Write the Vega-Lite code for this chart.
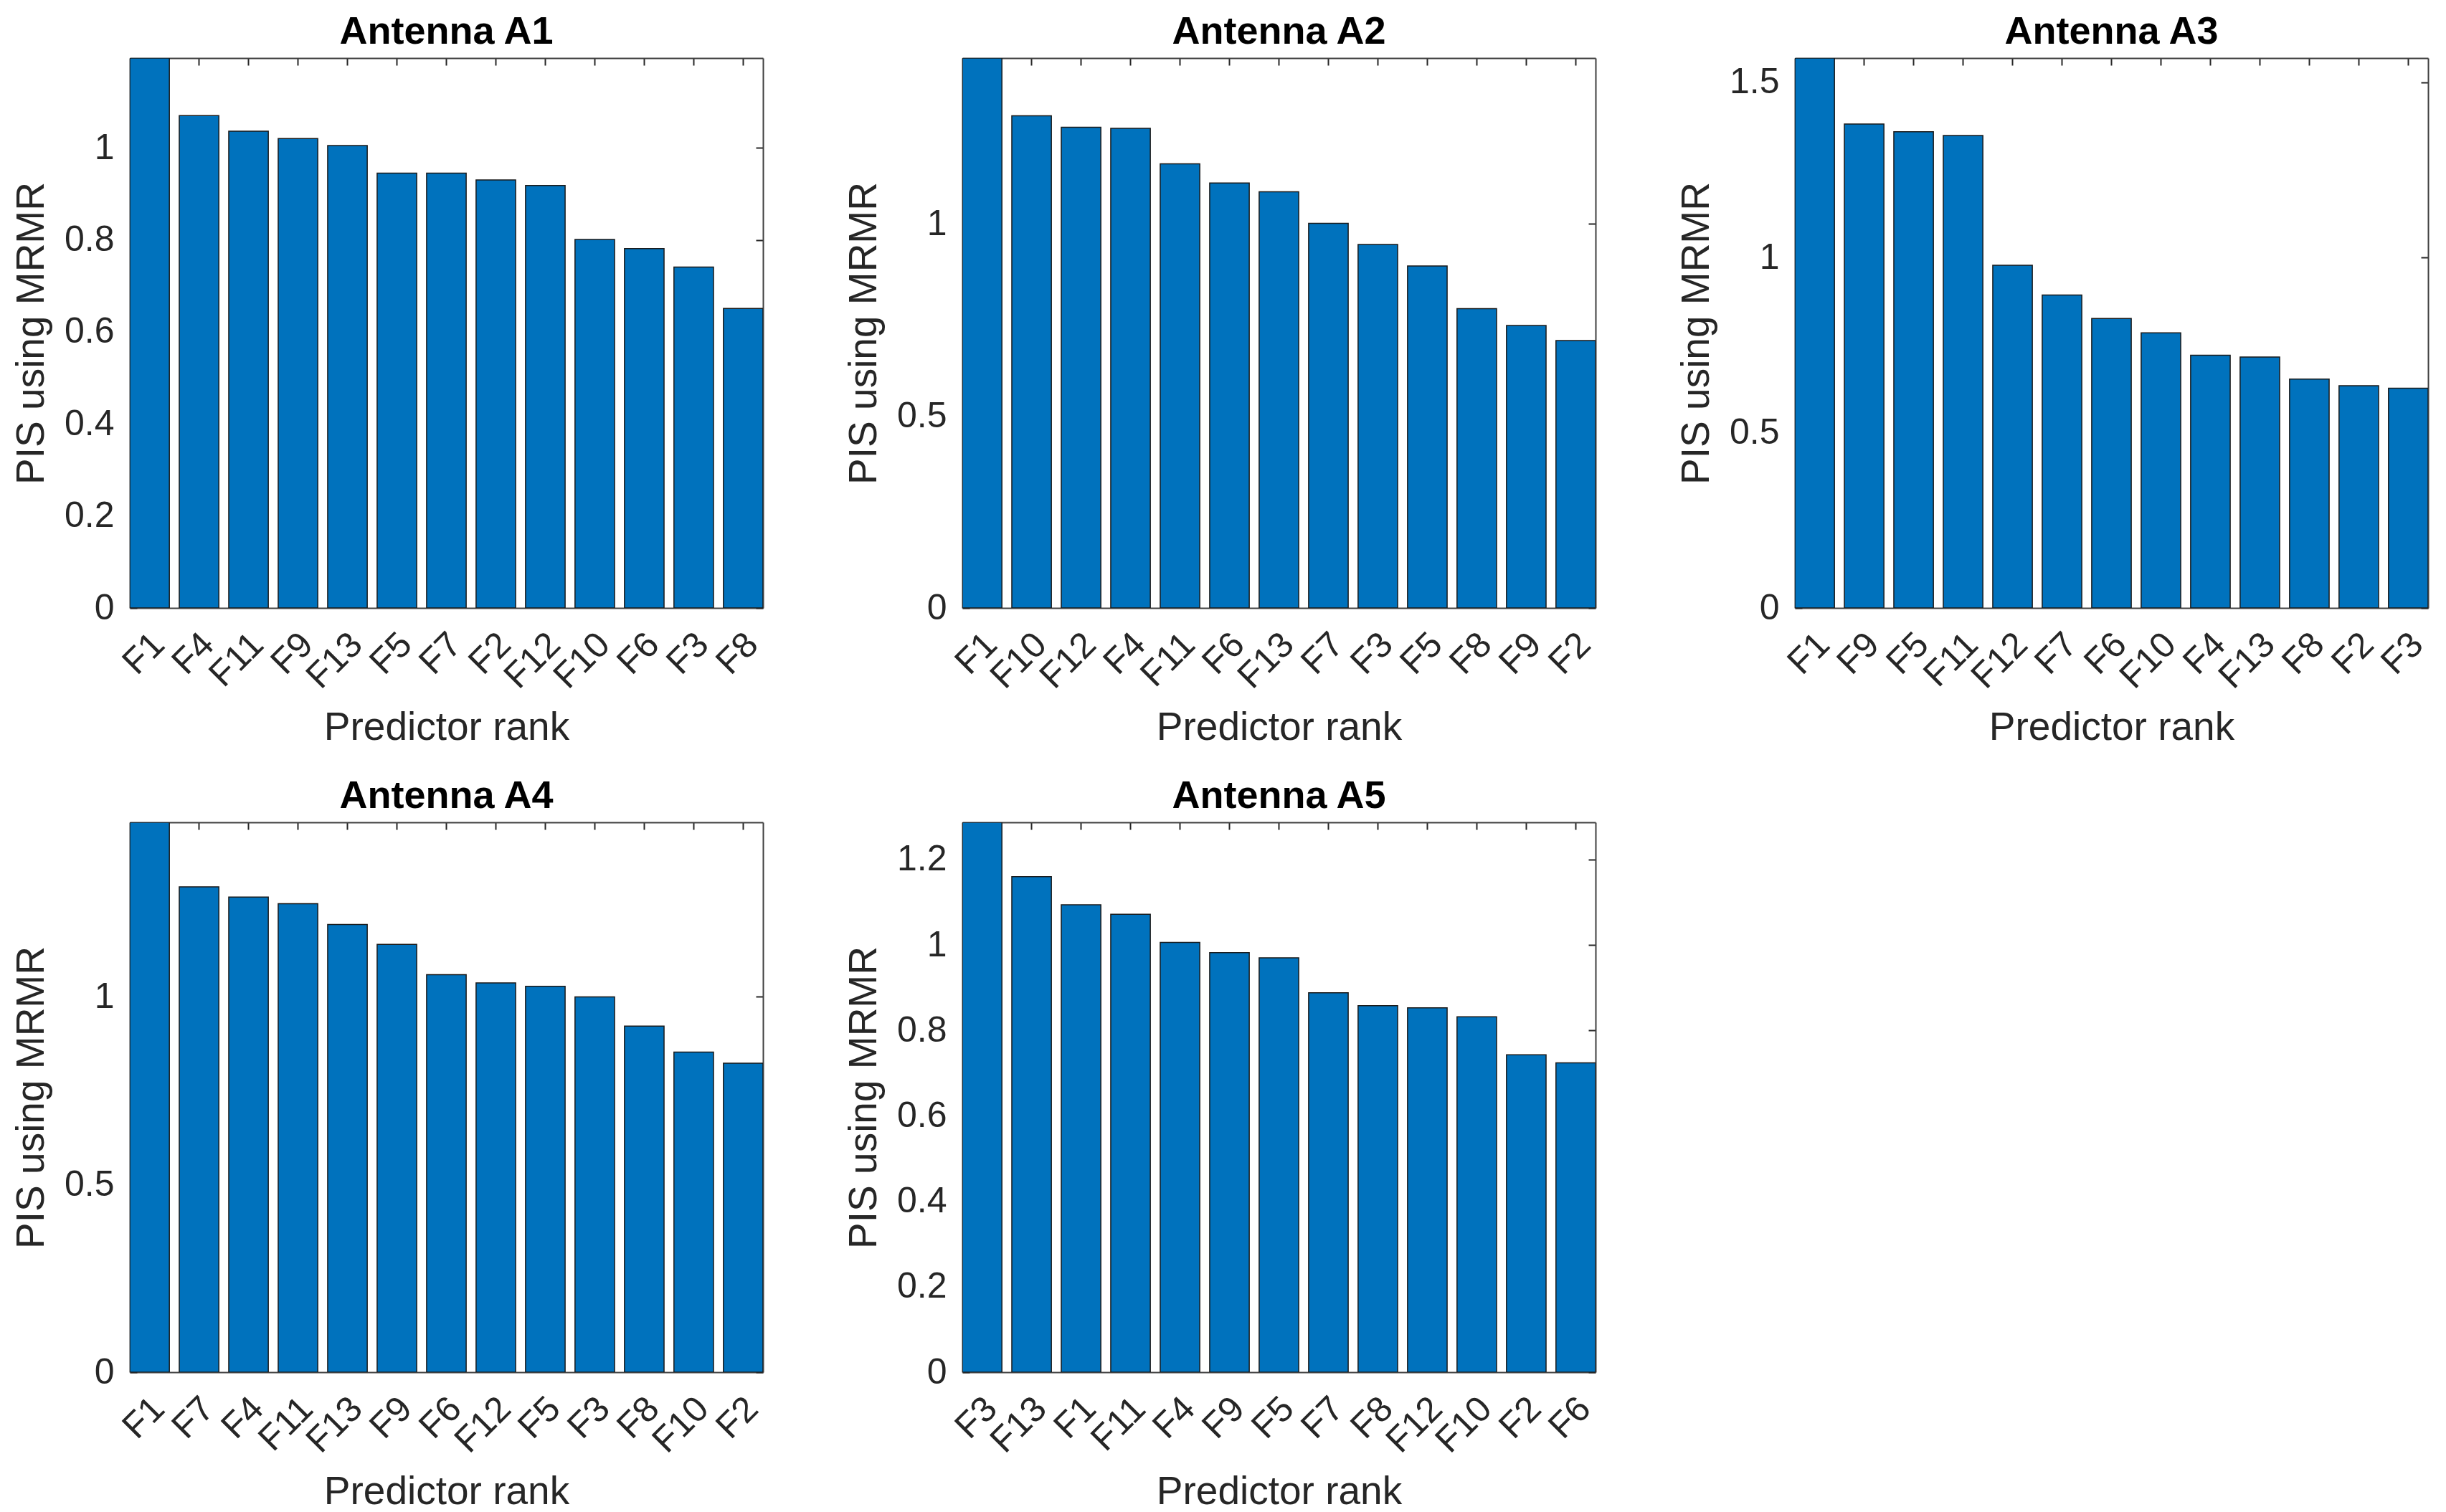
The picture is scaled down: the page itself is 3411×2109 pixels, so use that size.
{
  "$schema": "https://vega.github.io/schema/vega-lite/v6.json",
  "padding": {"left": 16, "top": 18, "right": 5, "bottom": 5},
  "background": "white",
  "datasets": {
    "pis": [
      {"antenna": "A1", "feature": "F1", "rank": 1, "value": 1.195},
      {"antenna": "A1", "feature": "F4", "rank": 2, "value": 1.070},
      {"antenna": "A1", "feature": "F11", "rank": 3, "value": 1.036},
      {"antenna": "A1", "feature": "F9", "rank": 4, "value": 1.020},
      {"antenna": "A1", "feature": "F13", "rank": 5, "value": 1.005},
      {"antenna": "A1", "feature": "F5", "rank": 6, "value": 0.945},
      {"antenna": "A1", "feature": "F7", "rank": 7, "value": 0.945},
      {"antenna": "A1", "feature": "F2", "rank": 8, "value": 0.930},
      {"antenna": "A1", "feature": "F12", "rank": 9, "value": 0.918},
      {"antenna": "A1", "feature": "F10", "rank": 10, "value": 0.801},
      {"antenna": "A1", "feature": "F6", "rank": 11, "value": 0.781},
      {"antenna": "A1", "feature": "F3", "rank": 12, "value": 0.741},
      {"antenna": "A1", "feature": "F8", "rank": 13, "value": 0.651},
      {"antenna": "A2", "feature": "F1", "rank": 1, "value": 1.431},
      {"antenna": "A2", "feature": "F10", "rank": 2, "value": 1.281},
      {"antenna": "A2", "feature": "F12", "rank": 3, "value": 1.251},
      {"antenna": "A2", "feature": "F4", "rank": 4, "value": 1.248},
      {"antenna": "A2", "feature": "F11", "rank": 5, "value": 1.156},
      {"antenna": "A2", "feature": "F6", "rank": 6, "value": 1.106},
      {"antenna": "A2", "feature": "F13", "rank": 7, "value": 1.083},
      {"antenna": "A2", "feature": "F7", "rank": 8, "value": 1.001},
      {"antenna": "A2", "feature": "F3", "rank": 9, "value": 0.946},
      {"antenna": "A2", "feature": "F5", "rank": 10, "value": 0.890},
      {"antenna": "A2", "feature": "F8", "rank": 11, "value": 0.779},
      {"antenna": "A2", "feature": "F9", "rank": 12, "value": 0.735},
      {"antenna": "A2", "feature": "F2", "rank": 13, "value": 0.696},
      {"antenna": "A3", "feature": "F1", "rank": 1, "value": 1.569},
      {"antenna": "A3", "feature": "F9", "rank": 2, "value": 1.381},
      {"antenna": "A3", "feature": "F5", "rank": 3, "value": 1.359},
      {"antenna": "A3", "feature": "F11", "rank": 4, "value": 1.348},
      {"antenna": "A3", "feature": "F12", "rank": 5, "value": 0.978},
      {"antenna": "A3", "feature": "F7", "rank": 6, "value": 0.893},
      {"antenna": "A3", "feature": "F6", "rank": 7, "value": 0.826},
      {"antenna": "A3", "feature": "F10", "rank": 8, "value": 0.785},
      {"antenna": "A3", "feature": "F4", "rank": 9, "value": 0.721},
      {"antenna": "A3", "feature": "F13", "rank": 10, "value": 0.716},
      {"antenna": "A3", "feature": "F8", "rank": 11, "value": 0.653},
      {"antenna": "A3", "feature": "F2", "rank": 12, "value": 0.634},
      {"antenna": "A3", "feature": "F3", "rank": 13, "value": 0.627},
      {"antenna": "A4", "feature": "F1", "rank": 1, "value": 1.465},
      {"antenna": "A4", "feature": "F7", "rank": 2, "value": 1.293},
      {"antenna": "A4", "feature": "F4", "rank": 3, "value": 1.266},
      {"antenna": "A4", "feature": "F11", "rank": 4, "value": 1.248},
      {"antenna": "A4", "feature": "F13", "rank": 5, "value": 1.193},
      {"antenna": "A4", "feature": "F9", "rank": 6, "value": 1.140},
      {"antenna": "A4", "feature": "F6", "rank": 7, "value": 1.059},
      {"antenna": "A4", "feature": "F12", "rank": 8, "value": 1.037},
      {"antenna": "A4", "feature": "F5", "rank": 9, "value": 1.028},
      {"antenna": "A4", "feature": "F3", "rank": 10, "value": 1.000},
      {"antenna": "A4", "feature": "F8", "rank": 11, "value": 0.922},
      {"antenna": "A4", "feature": "F10", "rank": 12, "value": 0.853},
      {"antenna": "A4", "feature": "F2", "rank": 13, "value": 0.823},
      {"antenna": "A5", "feature": "F3", "rank": 1, "value": 1.287},
      {"antenna": "A5", "feature": "F13", "rank": 2, "value": 1.160},
      {"antenna": "A5", "feature": "F1", "rank": 3, "value": 1.094},
      {"antenna": "A5", "feature": "F11", "rank": 4, "value": 1.072},
      {"antenna": "A5", "feature": "F4", "rank": 5, "value": 1.006},
      {"antenna": "A5", "feature": "F9", "rank": 6, "value": 0.982},
      {"antenna": "A5", "feature": "F5", "rank": 7, "value": 0.970},
      {"antenna": "A5", "feature": "F7", "rank": 8, "value": 0.888},
      {"antenna": "A5", "feature": "F8", "rank": 9, "value": 0.858},
      {"antenna": "A5", "feature": "F12", "rank": 10, "value": 0.853},
      {"antenna": "A5", "feature": "F10", "rank": 11, "value": 0.832},
      {"antenna": "A5", "feature": "F2", "rank": 12, "value": 0.743},
      {"antenna": "A5", "feature": "F6", "rank": 13, "value": 0.724}
    ]
  },
  "data": {"name": "pis"},
  "columns": 3,
  "bounds": "flush",
  "spacing": {"row": 299, "column": 278},
  "concat": [
    {
      "title": {"text": "Antenna A1"},
      "width": 883, "height": 767,
      "transform": [{"filter": "datum.antenna === 'A1'"}],
      "layer": [
        {"mark": {"type": "bar", "clip": true},
         "encoding": {
           "x": {"field": "feature", "type": "nominal", "sort": {"field": "rank", "op": "min"}, "scale": {"paddingInner": 0.2, "paddingOuter": 0}, "axis": {"title": "Predictor rank", "orient": "bottom"}},
           "y": {"field": "value", "type": "quantitative", "stack": null, "scale": {"domain": [0, 1.195], "nice": false, "zero": true}, "axis": {"title": "PIS using MRMR", "orient": "left", "values": [0, 0.2, 0.4, 0.6, 0.8, 1], "format": "~g"}}
         }},
        {"mark": {"type": "bar", "opacity": 0, "clip": true},
         "encoding": {
           "x": {"field": "feature", "type": "nominal", "sort": {"field": "rank", "op": "min"}, "axis": {"title": null, "orient": "top", "labels": false}},
           "y": {"field": "value", "type": "quantitative", "stack": null, "axis": {"title": null, "orient": "right", "labels": false, "values": [0, 0.2, 0.4, 0.6, 0.8, 1]}}
         }}
      ],
      "resolve": {"axis": {"x": "independent", "y": "independent"}}
    },
    {
      "title": {"text": "Antenna A2"},
      "width": 883, "height": 767,
      "transform": [{"filter": "datum.antenna === 'A2'"}],
      "layer": [
        {"mark": {"type": "bar", "clip": true},
         "encoding": {
           "x": {"field": "feature", "type": "nominal", "sort": {"field": "rank", "op": "min"}, "scale": {"paddingInner": 0.2, "paddingOuter": 0}, "axis": {"title": "Predictor rank", "orient": "bottom"}},
           "y": {"field": "value", "type": "quantitative", "stack": null, "scale": {"domain": [0, 1.431], "nice": false, "zero": true}, "axis": {"title": "PIS using MRMR", "orient": "left", "values": [0, 0.5, 1], "format": "~g"}}
         }},
        {"mark": {"type": "bar", "opacity": 0, "clip": true},
         "encoding": {
           "x": {"field": "feature", "type": "nominal", "sort": {"field": "rank", "op": "min"}, "axis": {"title": null, "orient": "top", "labels": false}},
           "y": {"field": "value", "type": "quantitative", "stack": null, "axis": {"title": null, "orient": "right", "labels": false, "values": [0, 0.5, 1]}}
         }}
      ],
      "resolve": {"axis": {"x": "independent", "y": "independent"}}
    },
    {
      "title": {"text": "Antenna A3"},
      "width": 883, "height": 767,
      "transform": [{"filter": "datum.antenna === 'A3'"}],
      "layer": [
        {"mark": {"type": "bar", "clip": true},
         "encoding": {
           "x": {"field": "feature", "type": "nominal", "sort": {"field": "rank", "op": "min"}, "scale": {"paddingInner": 0.2, "paddingOuter": 0}, "axis": {"title": "Predictor rank", "orient": "bottom"}},
           "y": {"field": "value", "type": "quantitative", "stack": null, "scale": {"domain": [0, 1.569], "nice": false, "zero": true}, "axis": {"title": "PIS using MRMR", "orient": "left", "values": [0, 0.5, 1, 1.5], "format": "~g"}}
         }},
        {"mark": {"type": "bar", "opacity": 0, "clip": true},
         "encoding": {
           "x": {"field": "feature", "type": "nominal", "sort": {"field": "rank", "op": "min"}, "axis": {"title": null, "orient": "top", "labels": false}},
           "y": {"field": "value", "type": "quantitative", "stack": null, "axis": {"title": null, "orient": "right", "labels": false, "values": [0, 0.5, 1, 1.5]}}
         }}
      ],
      "resolve": {"axis": {"x": "independent", "y": "independent"}}
    },
    {
      "title": {"text": "Antenna A4"},
      "width": 883, "height": 767,
      "transform": [{"filter": "datum.antenna === 'A4'"}],
      "layer": [
        {"mark": {"type": "bar", "clip": true},
         "encoding": {
           "x": {"field": "feature", "type": "nominal", "sort": {"field": "rank", "op": "min"}, "scale": {"paddingInner": 0.2, "paddingOuter": 0}, "axis": {"title": "Predictor rank", "orient": "bottom"}},
           "y": {"field": "value", "type": "quantitative", "stack": null, "scale": {"domain": [0, 1.465], "nice": false, "zero": true}, "axis": {"title": "PIS using MRMR", "orient": "left", "values": [0, 0.5, 1], "format": "~g"}}
         }},
        {"mark": {"type": "bar", "opacity": 0, "clip": true},
         "encoding": {
           "x": {"field": "feature", "type": "nominal", "sort": {"field": "rank", "op": "min"}, "axis": {"title": null, "orient": "top", "labels": false}},
           "y": {"field": "value", "type": "quantitative", "stack": null, "axis": {"title": null, "orient": "right", "labels": false, "values": [0, 0.5, 1]}}
         }}
      ],
      "resolve": {"axis": {"x": "independent", "y": "independent"}}
    },
    {
      "title": {"text": "Antenna A5"},
      "width": 883, "height": 767,
      "transform": [{"filter": "datum.antenna === 'A5'"}],
      "layer": [
        {"mark": {"type": "bar", "clip": true},
         "encoding": {
           "x": {"field": "feature", "type": "nominal", "sort": {"field": "rank", "op": "min"}, "scale": {"paddingInner": 0.2, "paddingOuter": 0}, "axis": {"title": "Predictor rank", "orient": "bottom"}},
           "y": {"field": "value", "type": "quantitative", "stack": null, "scale": {"domain": [0, 1.287], "nice": false, "zero": true}, "axis": {"title": "PIS using MRMR", "orient": "left", "values": [0, 0.2, 0.4, 0.6, 0.8, 1, 1.2], "format": "~g"}}
         }},
        {"mark": {"type": "bar", "opacity": 0, "clip": true},
         "encoding": {
           "x": {"field": "feature", "type": "nominal", "sort": {"field": "rank", "op": "min"}, "axis": {"title": null, "orient": "top", "labels": false}},
           "y": {"field": "value", "type": "quantitative", "stack": null, "axis": {"title": null, "orient": "right", "labels": false, "values": [0, 0.2, 0.4, 0.6, 0.8, 1, 1.2]}}
         }}
      ],
      "resolve": {"axis": {"x": "independent", "y": "independent"}}
    }
  ],
  "config": {
    "view": {"stroke": null},
    "bar": {"fill": "#0072BD", "stroke": "#1a1a1a", "strokeWidth": 1.5},
    "title": {"font": "Liberation Sans", "fontSize": 54, "fontWeight": "bold", "color": "#000000", "anchor": "middle", "offset": 8},
    "axis": {
      "labelFont": "Liberation Sans", "titleFont": "Liberation Sans",
      "labelFontSize": 50, "titleFontSize": 55, "titleFontWeight": "normal",
      "labelColor": "#262626", "titleColor": "#262626",
      "tickColor": "#262626", "tickSize": -10, "tickWidth": 2,
      "domainColor": "#404040", "domainWidth": 2,
      "grid": false, "zindex": 1, "labelOverlap": false
    },
    "axisBottom": {"labelAngle": -45, "labelAlign": "right", "labelBaseline": "middle", "labelOffset": 13, "labelPadding": 53, "titlePadding": 19},
    "axisLeft": {"labelPadding": 32, "titlePadding": 17}
  }
}
